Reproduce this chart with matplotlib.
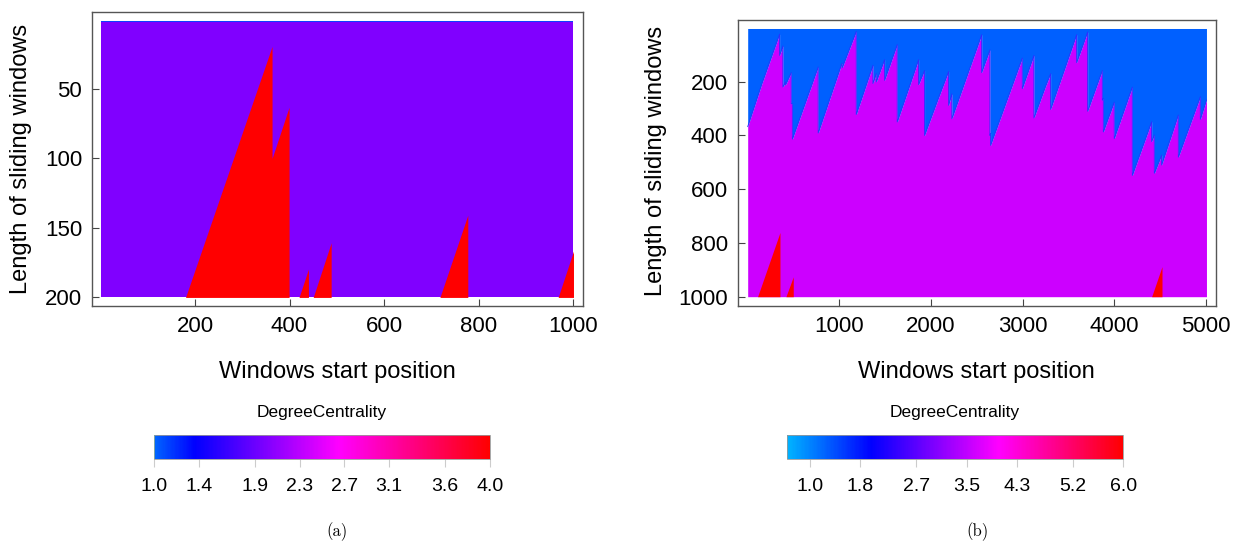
import matplotlib
matplotlib.use('Agg')
import matplotlib.pyplot as plt
from matplotlib.colors import LinearSegmentedColormap, Normalize
from matplotlib.cm import ScalarMappable

plt.rcParams['font.family'] = ['Liberation Sans', 'DejaVu Sans']

# (a) start positions 1..1000, window lengths 1..200
a_xrange = [0.5, 1000.5]
a_yrange = [0.5, 200.5]
# boundary of the red (high centrality) zone, filled down to length 200
a_red_x = [1, 180, 363, 363, 399, 399, 420, 440, 440, 450, 488, 488, 718, 777, 777, 968, 1000.5]
a_red_y = [200.5, 200.5, 19, 100, 63, 200.5, 200.5, 180, 200.5, 200.5, 161, 200.5, 200.5, 141, 200.5, 200.5, 167]

# (b) start positions 1..5000, window lengths 1..1000
b_xrange = [1, 5005]
b_yrange = [2, 1000]
# boundary between the blue (top) and magenta zone
b_blue_x = [1, 156, 349, 349, 385, 385, 414, 414, 476, 476, 488, 488, 770, 770,
            1029, 1031, 1185, 1185, 1367, 1367, 1403, 1403, 1494, 1494, 1632, 1632,
            1865, 1865, 1930, 1930, 2065, 2192, 2192, 2228, 2228, 2553, 2553, 2643,
            2643, 2650, 2650, 2996, 2996, 3123, 3123, 3250, 3305, 3305, 3589, 3589,
            3709, 3709, 3869, 3869, 3880, 3880, 3999, 3999, 4196, 4196, 4407, 4407,
            4436, 4436, 4516, 4516, 4698, 4698, 4938, 4938, 5005]
b_blue_y = [367, 207, 23, 102, 67, 220, 201, 212, 166, 282, 282, 414, 145, 391,
            131, 149, 13, 322, 139, 207, 170, 201, 118, 195, 62, 350,
            118, 211, 158, 400, 276, 162, 288, 245, 338, 25, 166, 81,
            400, 392, 437, 112, 226, 102, 335, 217, 170, 303, 25, 129,
            15, 310, 158, 269, 262, 387, 276, 412, 220, 549, 349, 423,
            398, 541, 473, 510, 324, 481, 256, 340, 268]
# boundary of the red zone, filled down to length 1000
b_red_x = [1, 109, 353, 353, 418, 498, 498, 4407, 4520, 4520, 5005]
b_red_y = [1000, 1000, 761, 1000, 1000, 926, 1000, 1000, 888, 1000, 1000]

a_cb_range = [1.0, 4.0]
a_cb_ticks = [1.0, 1.4, 1.9, 2.3, 2.7, 3.1, 3.6, 4.0]
b_cb_range = [0.63, 6.0]
b_cb_ticks = [1.0, 1.8, 2.7, 3.5, 4.3, 5.2, 6.0]

cmap_a = LinearSegmentedColormap.from_list('dc_a', [(0, '#00E0E0'), (0.004, '#0060FF'), (0.12, '#0000FF'),
                                                    (0.335, '#8000FF'), (0.55, '#FF00FF'), (1, '#FF0000')])
cmap_b = LinearSegmentedColormap.from_list('dc_b', [(0, '#00B4FF'), (0.25, '#0000FF'), (0.44, '#8000FF'),
                                                    (0.63, '#FF00FF'), (1, '#FF0000')])

W, H = 1240, 553
fig = plt.figure(figsize=(12.4, 5.53), dpi=100)

ax1 = fig.add_axes([92 / W, 1 - 306 / H, 490.7 / W, 294.3 / H])
ax2 = fig.add_axes([737.7 / W, 1 - 306 / H, 478.3 / W, 286 / H])

# panel (a)
ax1.fill_between(a_xrange, a_yrange[0], a_yrange[1], color='#8000FF', lw=0)
ax1.fill_between(a_xrange, a_yrange[0], a_yrange[0] + 1.2, color='#1040FF', lw=0)
ax1.fill_between(a_red_x, a_red_y, a_yrange[1], color='#FF0000', lw=0)
ax1.set_xlim(-17.8, 1020)
ax1.set_ylim(206.7, -6.1)
ax1.set_xticks([200, 400, 600, 800, 1000])
ax1.set_yticks([50, 100, 150, 200])

# panel (b)
ax2.fill_between(b_blue_x, b_blue_y, b_yrange[1], color='#CC00FF', lw=0)
ax2.fill_between(b_blue_x, b_yrange[0], b_blue_y, color='#0060FF', lw=0)
ax2.plot(b_blue_x, b_blue_y, color='#2a30ff', lw=0.6)
ax2.fill_between(b_red_x, b_red_y, b_yrange[1], color='#FF0000', lw=0)
ax2.set_xlim(-108, 5109)
ax2.set_ylim(1034.6, -29.6)
ax2.set_xticks([1000, 2000, 3000, 4000, 5000])
ax2.set_yticks([200, 400, 600, 800, 1000])

for ax, lx, ly in [(ax1, (0.5, -0.224), (-0.1447, 0.5)), (ax2, (0.5, -0.231), (-0.171, 0.507))]:
    for s in ax.spines.values():
        s.set_color('#555555')
        s.set_linewidth(1.0)
    ax.tick_params(direction='in', length=5, width=0.8, color='#444444', labelsize=16, pad=7)
    ax.set_xlabel('Windows start position', fontsize=17)
    ax.set_ylabel('Length of sliding windows', fontsize=17)
    ax.xaxis.set_label_coords(*lx)
    ax.yaxis.set_label_coords(*ly)
    ax.xaxis.label.set_va('center')
    ax.yaxis.label.set_va('center')

# colour bars
for left, width, rng, cmap, ticks, cx in [(154, 336, a_cb_range, cmap_a, a_cb_ticks, 322),
                                          (786.7, 336.6, b_cb_range, cmap_b, b_cb_ticks, 955)]:
    cax = fig.add_axes([left / W, 1 - 459 / H, width / W, 24 / H])
    sm = ScalarMappable(norm=Normalize(*rng), cmap=cmap)
    cb = fig.colorbar(sm, cax=cax, orientation='horizontal', ticks=ticks, format='%.1f')
    cb.outline.set_edgecolor('#999999')
    cb.outline.set_linewidth(0.6)
    cb.ax.tick_params(direction='out', length=6, width=0.8, color='#cccccc', labelsize=14, pad=8)
    fig.text(cx / W, 1 - 413 / H, 'DegreeCentrality', ha='center', va='center', fontsize=12.5)

fig.text(337 / W, 1 - 532 / H, '(a)', family='cmr10', fontsize=12, ha='center', va='center')
fig.text(977 / W, 1 - 532 / H, '(b)', family='cmr10', fontsize=12, ha='center', va='center')

fig.savefig('out.png', dpi=100)
